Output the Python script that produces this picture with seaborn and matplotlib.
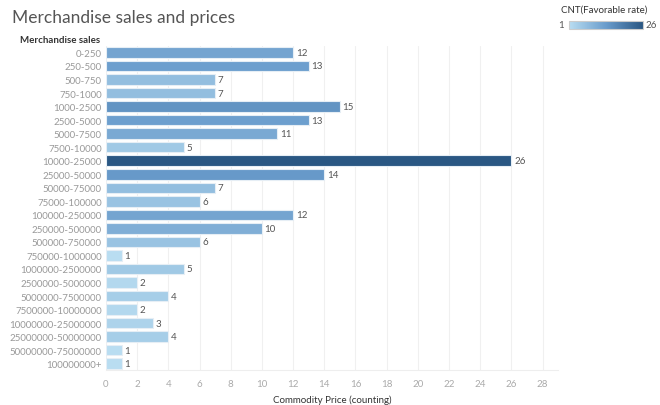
import numpy as np
import pandas as pd
import matplotlib as mpl
import matplotlib.pyplot as plt
import seaborn as sns
from matplotlib.colors import LinearSegmentedColormap, Normalize

sales_bins = ["0-250", "250-500", "500-750", "750-1000", "1000-2500", "2500-5000",
              "5000-7500", "7500-10000", "10000-25000", "25000-50000", "50000-75000",
              "75000-100000", "100000-250000", "250000-500000", "500000-750000",
              "750000-1000000", "1000000-2500000", "2500000-5000000", "5000000-7500000",
              "7500000-10000000", "10000000-25000000", "25000000-50000000",
              "50000000-75000000", "100000000+"]
counts = [12, 13, 7, 7, 15, 13, 11, 5, 26, 14, 7, 6, 12, 10, 6, 1, 5, 2, 4, 2, 3, 4, 1, 1]
xticks = list(range(0, 30, 2))

df = pd.DataFrame({"Merchandise sales": sales_bins, "Count": counts})

sns.set_style("white")
plt.rcParams["font.family"] = ["Lato", "DejaVu Sans"]

cmap = LinearSegmentedColormap.from_list("tab_blue", ["#b9ddf1", "#6a9ccc", "#2a5783"])
norm = Normalize(vmin=1, vmax=26)

fig = plt.figure(figsize=(6.6, 4.06), dpi=100)
ax = fig.add_axes([0.1606, 0.085, 0.685, 0.80])

bar_colors = {v: cmap(norm(v)) for v in set(counts)}
sns.barplot(data=df, x="Count", y="Merchandise sales", hue="Count", palette=bar_colors,
            orient="h", width=0.78, saturation=1, edgecolor="#e6eef5", linewidth=0.8,
            legend=False, ax=ax)

for c in ax.containers:
    ax.bar_label(c, padding=2, fontsize=7, color="#555555")

ax.set_xlim(0, 29)
ax.set_xticks(xticks)
ax.tick_params(axis="x", labelsize=7, colors="#aaaaaa", length=0, pad=6)
ax.tick_params(axis="y", labelsize=7, colors="#999999", length=0, pad=3)
ax.xaxis.grid(True, color="#f0f0f0", linewidth=0.8)
ax.set_axisbelow(True)
for s in ["top", "right", "left"]:
    ax.spines[s].set_visible(False)
ax.spines["bottom"].set_color("#eeeeee")
ax.set_ylabel("")
ax.set_xlabel("Commodity Price (counting)", fontsize=7, color="#333333", labelpad=5)

fig.text(0.018, 0.955, "Merchandise sales and prices", fontsize=12.5, color="#555555", va="center")
fig.text(0.152, 0.90, "Merchandise sales", fontsize=7, color="#333333",
         fontweight="bold", ha="right", va="center")

# colour legend
cax = fig.add_axes([0.862, 0.925, 0.112, 0.022])
cb = mpl.colorbar.ColorbarBase(cax, cmap=cmap, norm=norm, orientation="horizontal")
cb.outline.set_edgecolor("#cccccc")
cb.set_ticks([])
fig.text(0.85, 0.974, "CNT(Favorable rate)", fontsize=7, color="#333333", va="center")
fig.text(0.854, 0.936, "1", fontsize=7, color="#555555", ha="right", va="center")
fig.text(0.978, 0.936, "26", fontsize=7, color="#555555", ha="left", va="center")

fig.savefig("out.png", dpi=100)
